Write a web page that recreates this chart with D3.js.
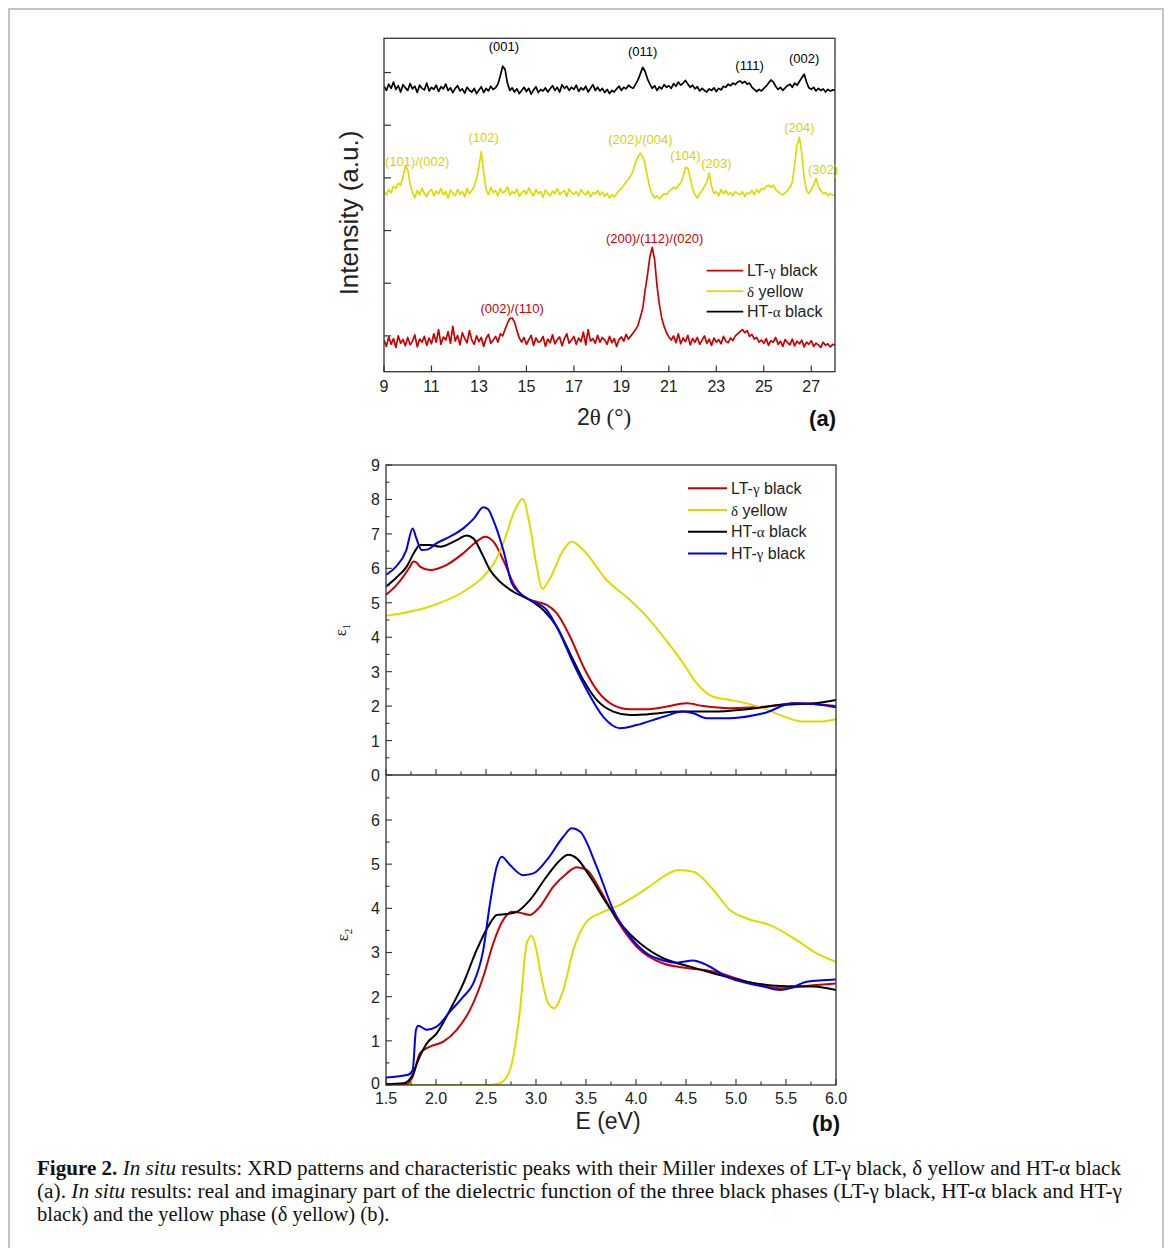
<!DOCTYPE html>
<html><head><meta charset="utf-8">
<script src="https://cdn.jsdelivr.net/npm/d3@7"></script>
<style>body{margin:0;background:#fff}svg{display:block}</style>
</head><body><svg id="c" width="1168" height="1248"></svg>
<script>
// ---------- DATA ----------
// XRD (panel a): intensity (a.u.) sampled every 0.1 deg from 9.0 to 28.0
const xrdStart = 9, xrdStep = 0.1;
const xrd_LTgamma = [
92,80,98,84,95,78,100,86,93,81, 97,83,90,102,79,94,88,99,82,96,
85,104,88,112,84,98,92,108,86,118, 90,101,83,106,95,87,110,92,84,100,
89,97,80,95,103,86,92,99,88,104, 100,112,124,133,134,126,110,96,88,97,
84,93,101,82,96,88,90,99,80,94, 87,102,85,93,98,81,95,104,86,92,
99,84,96,89,107,83,112,90,95,86, 101,88,97,92,84,99,87,95,80,93,
98,90,103,94,100,106,112,120,136,152, 186,216,250,268,245,196,160,134,118,106,
98,92,100,87,104,85,96,89,101,83, 95,88,97,84,92,100,86,94,82,96,
88,93,85,99,90,87,96,91,100,104, 108,112,106,110,99,103,94,97,88,92,
86,95,82,91,88,97,84,90,80,93, 87,83,94,81,90,85,92,79,88,84,
91,80,86,83,78,88,82,85,79,84, 82];
const xrd_delta = [
374,368,378,372,384,380,390,386,402,423, 415,388,372,362,376,368,380,370,365,374,
378,366,375,370,380,368,374,362,377,371, 366,378,369,374,364,380,370,376,384,398,
422,450,410,378,368,382,372,376,366,380, 371,375,383,367,374,370,379,365,372,376,
369,381,372,366,378,370,374,363,377,371, 366,375,370,380,368,373,376,365,379,372,
369,374,366,378,371,368,375,364,372,370, 376,367,373,365,371,362,368,364,370,376,
380,386,392,398,405,414,430,440,447,440, 426,402,380,368,362,366,360,365,370,368,
374,378,382,380,386,390,402,420,418,400, 380,368,362,370,376,384,392,409,384,370,
374,366,378,370,376,368,372,366,374,370, 368,374,365,372,370,376,368,378,372,380,
378,384,386,382,386,378,374,370,368,372, 376,382,392,425,462,477,448,400,376,370,
378,386,399,384,376,370,372,366,370,368, 366];
const xrd_HTalpha = [
574,566,578,570,582,568,575,563,577,571, 566,579,569,574,562,576,570,567,580,565,
572,568,576,564,573,569,578,566,571,562, 570,575,565,569,561,572,566,563,570,560,
567,573,562,570,565,574,568,571,578,594, 612,606,580,566,571,563,569,560,566,572,
564,570,559,567,573,562,568,565,571,563, 569,575,566,572,563,577,570,574,566,572,
568,576,564,571,567,574,563,570,577,566, 572,565,570,562,568,560,566,563,569,574,
566,572,569,576,572,570,578,586,598,610, 602,588,578,570,575,566,573,569,577,572,
575,570,579,574,582,576,580,585,578,572, 576,569,573,565,570,566,563,569,566,571,
564,570,567,574,572,578,575,580,577,582, 584,580,583,578,580,572,568,564,568,565,
570,574,580,586,582,574,568,572,566,571, 575,578,572,580,576,583,590,597,582,571,
568,572,565,570,566,569,563,568,565,567, 566];
const xrdXTicks = [9,11,13,15,17,19,21,23,25,27];
const xrdYTicks = [100,200,300,400,500,600];
// Miller index labels: [2theta, intensity position, text, series]
const xrdLabels = [
  [14.05, 640, "(001)", "HTa"], [19.9, 631, "(011)", "HTa"], [24.4, 605, "(111)", "HTa"], [26.7, 618, "(002)", "HTa"],
  [10.4, 423, "(101)/(002)", "d"], [13.2, 468, "(102)", "d"], [19.8, 464, "(202)/(004)", "d"], [21.7, 433, "(104)", "d"],
  [23.0, 418, "(203)", "d"], [26.5, 488, "(204)", "d"], [27.5, 407, "(302)", "d"],
  [20.4, 276, "(200)/(112)/(020)", "LTg"], [14.4, 143, "(002)/(110)", "LTg"]
];
// Dielectric function (panel b): [E (eV), value]
const eps1_LTgamma = [[1.5,5.23],[1.6,5.5],[1.673,5.76],[1.74,6.05],[1.773,6.2],[1.8,6.18],[1.84,6.05],[1.94,5.95],[2.107,6.1],[2.273,6.44],[2.407,6.78],[2.49,6.92],[2.573,6.78],[2.673,6.24],[2.773,5.57],[2.873,5.18],[3.007,5.03],[3.107,4.94],[3.207,4.7],[3.34,4.02],[3.473,3.15],[3.607,2.47],[3.773,2.03],[3.94,1.91],[4.107,1.91],[4.273,1.97],[4.507,2.08],[4.673,2.0],[4.94,1.94],[5.273,1.98],[5.607,2.08],[6.0,2.0]];
const eps1_delta = [[1.5,4.62],[1.94,4.89],[2.273,5.32],[2.473,5.76],[2.6,6.25],[2.673,6.73],[2.79,7.7],[2.867,8.02],[2.94,7.21],[3.007,6.05],[3.063,5.4],[3.14,5.71],[3.273,6.53],[3.357,6.78],[3.473,6.53],[3.707,5.66],[3.94,5.08],[4.107,4.6],[4.273,4.02],[4.473,3.24],[4.607,2.66],[4.773,2.27],[4.94,2.18],[5.107,2.08],[5.273,1.94],[5.44,1.74],[5.673,1.55],[5.84,1.55],[6.0,1.62]];
const eps1_HTalpha = [[1.5,5.47],[1.6,5.72],[1.707,6.05],[1.78,6.45],[1.84,6.68],[1.94,6.68],[2.04,6.63],[2.207,6.82],[2.307,6.95],[2.373,6.87],[2.457,6.44],[2.54,5.95],[2.64,5.61],[2.773,5.32],[2.94,5.08],[3.073,4.79],[3.207,4.31],[3.34,3.53],[3.473,2.76],[3.607,2.18],[3.773,1.84],[3.94,1.74],[4.107,1.76],[4.44,1.84],[4.773,1.84],[5.107,1.91],[5.44,2.03],[5.773,2.08],[6.0,2.18]];
const eps1_HTgamma = [[1.5,5.81],[1.6,6.05],[1.7,6.5],[1.767,7.16],[1.8,6.9],[1.857,6.53],[1.92,6.55],[2.007,6.73],[2.14,6.92],[2.273,7.16],[2.38,7.45],[2.473,7.77],[2.52,7.72],[2.573,7.4],[2.673,6.53],[2.757,5.57],[2.84,5.28],[2.94,5.08],[3.107,4.79],[3.24,4.11],[3.373,3.24],[3.507,2.47],[3.673,1.69],[3.84,1.36],[4.007,1.45],[4.273,1.69],[4.473,1.84],[4.573,1.79],[4.707,1.65],[4.94,1.65],[5.273,1.79],[5.573,2.08],[5.773,2.06],[6.0,1.97]];
const eps2_LTgamma = [[1.5,0.0],[1.7,0.02],[1.767,0.19],[1.84,0.72],[1.94,0.87],[2.073,0.98],[2.207,1.25],[2.34,1.7],[2.473,2.45],[2.573,3.21],[2.673,3.74],[2.757,3.92],[2.84,3.9],[2.94,3.85],[3.04,4.04],[3.173,4.49],[3.307,4.79],[3.407,4.93],[3.507,4.87],[3.64,4.42],[3.807,3.74],[4.007,3.13],[4.273,2.75],[4.54,2.64],[4.773,2.57],[5.107,2.34],[5.44,2.19],[5.773,2.26],[6.0,2.3]];
const eps2_delta = [[1.5,0],[2.54,0],[2.64,0.04],[2.74,0.34],[2.84,1.7],[2.907,3.2],[2.957,3.38],[3.0,3.1],[3.04,2.6],[3.123,1.85],[3.18,1.74],[3.273,2.15],[3.373,3.06],[3.507,3.7],[3.673,3.92],[3.84,4.08],[4.107,4.45],[4.273,4.72],[4.423,4.87],[4.573,4.83],[4.773,4.42],[4.94,3.96],[5.107,3.77],[5.34,3.62],[5.607,3.28],[5.807,2.98],[6.0,2.79]];
const eps2_HTalpha = [[1.5,0.02],[1.673,0.04],[1.757,0.19],[1.823,0.57],[1.907,0.94],[2.007,1.17],[2.14,1.7],[2.273,2.3],[2.407,3.06],[2.54,3.66],[2.607,3.85],[2.707,3.87],[2.807,3.92],[2.94,4.19],[3.107,4.72],[3.24,5.09],[3.323,5.21],[3.407,5.13],[3.54,4.72],[3.707,4.11],[3.873,3.58],[4.04,3.21],[4.273,2.87],[4.54,2.68],[4.773,2.53],[5.107,2.34],[5.44,2.24],[5.773,2.23],[6.0,2.15]];
const eps2_HTgamma = [[1.5,0.17],[1.723,0.23],[1.767,0.34],[1.8,1.25],[1.823,1.34],[1.907,1.25],[2.007,1.32],[2.14,1.66],[2.273,2.0],[2.373,2.3],[2.473,3.06],[2.54,4.11],[2.607,4.94],[2.657,5.17],[2.74,4.98],[2.873,4.75],[2.973,4.79],[3.107,5.09],[3.273,5.62],[3.357,5.81],[3.44,5.74],[3.607,4.94],[3.773,3.96],[3.94,3.36],[4.107,2.98],[4.273,2.82],[4.407,2.77],[4.573,2.82],[4.673,2.75],[4.94,2.42],[5.273,2.23],[5.44,2.15],[5.54,2.19],[5.707,2.34],[6.0,2.39]];
const eTicks = [1.5,2.0,2.5,3.0,3.5,4.0,4.5,5.0,5.5,6.0];
const eps1Ticks = [0,1,2,3,4,5,6,7,8,9];
const eps2Ticks = [0,1,2,3,4,5,6];
const colors = {LTg:"#cc0000", d:"#dcdc00", HTa:"#000000", HTg:"#0000ee"};

// ---------- DRAW ----------
const svg = d3.select("#c");
const SANS = "'Liberation Sans', Arial, sans-serif";
const SERIF = "'Liberation Serif', 'Times New Roman', serif";
svg.append("rect").attr("x",0).attr("y",0).attr("width",1168).attr("height",1248).attr("fill","#fff");
svg.append("path").attr("d","M9,1260V9H1163V1260").attr("fill","none").attr("stroke","#c4c4c4").attr("stroke-width",2);

// ----- Panel (a)
const xA = d3.scaleLinear().domain([9,28]).range([384,835]);
const yA = d3.scaleLinear().domain([32,665]).range([371.7,38.3]);
const defs = svg.append("defs");
defs.append("clipPath").attr("id","clipA").append("rect").attr("x",384).attr("y",38.3).attr("width",451).attr("height",333.4);
const gA = svg.append("g");
const lineA = d3.line().x((d,i)=>xA(xrdStart + i*xrdStep)).y(d=>yA(d));
const gAc = gA.append("g").attr("clip-path","url(#clipA)");
[[xrd_HTalpha,"HTa"],[xrd_delta,"d"],[xrd_LTgamma,"LTg"]].forEach(([arr,k])=>{
  gAc.append("path").attr("d",lineA(arr)).attr("fill","none").attr("stroke",colors[k]).attr("stroke-width",1.7).attr("stroke-linejoin","round");
});
gA.append("rect").attr("x",384).attr("y",38.3).attr("width",451).attr("height",333.4).attr("fill","none").attr("stroke","#333").attr("stroke-width",1.3);
xrdXTicks.forEach(t=>{
  gA.append("line").attr("x1",xA(t)).attr("x2",xA(t)).attr("y1",371.7).attr("y2",365.5).attr("stroke","#333").attr("stroke-width",1.2);
  gA.append("text").attr("x",xA(t)).attr("y",392).attr("text-anchor","middle").attr("font-family",SANS).attr("font-size",16).attr("fill","#222").text(t);
});
xrdYTicks.forEach(t=>{
  gA.append("line").attr("x1",384).attr("x2",391).attr("y1",yA(t)).attr("y2",yA(t)).attr("stroke","#333").attr("stroke-width",1.2);
});
xrdLabels.forEach(([tt,iv,txt,k])=>{
  gA.append("text").attr("x",xA(tt)).attr("y",yA(iv)).attr("text-anchor","middle").attr("font-family",SANS).attr("font-size",13).attr("fill",k==="d"?"#d4d400":colors[k]).text(txt);
});
// legend a
const legA = [["LTg","LT-","γ"," black"],["d","","δ"," yellow"],["HTa","HT-","α"," black"]];
legA.forEach(([k,a,g,b],i)=>{
  const y = 270.7 + i*20.5;
  gA.append("line").attr("x1",706.7).attr("x2",743.3).attr("y1",y).attr("y2",y).attr("stroke",colors[k]).attr("stroke-width",1.8);
  const t = gA.append("text").attr("x",747).attr("y",y+5.5).attr("font-family",SANS).attr("font-size",16).attr("fill","#222");
  t.append("tspan").text(a); t.append("tspan").attr("font-family",SERIF).attr("font-size",15).text(g); t.append("tspan").text(b);
});
const xtA = gA.append("text").attr("x",604).attr("y",425).attr("text-anchor","middle").attr("font-family",SANS).attr("font-size",23).attr("fill","#222");
xtA.append("tspan").text("2"); xtA.append("tspan").attr("font-family",SERIF).text("θ ("); xtA.append("tspan").attr("font-family",SERIF).text("°)");
gA.append("text").attr("x",836).attr("y",426).attr("text-anchor","end").attr("font-family",SANS).attr("font-weight","bold").attr("font-size",22).attr("fill","#111").text("(a)");
gA.append("text").attr("transform","translate(358,213) rotate(-90)").attr("text-anchor","middle").attr("font-family",SANS).attr("font-size",26).attr("fill","#222").text("Intensity (a.u.)");

// ----- Panel (b)
const xB = d3.scaleLinear().domain([1.5,6]).range([386,836]);
const y1 = d3.scaleLinear().domain([0,9]).range([775,465]);
const y2 = d3.scaleLinear().domain([0,7]).range([1085,775.8]);
defs.append("clipPath").attr("id","clip1").append("rect").attr("x",386).attr("y",465).attr("width",450).attr("height",310);
defs.append("clipPath").attr("id","clip2").append("rect").attr("x",386).attr("y",775).attr("width",450).attr("height",310);
const gB = svg.append("g");
const l1 = d3.line().curve(d3.curveMonotoneX).x(d=>xB(d[0])).y(d=>y1(d[1]));
const l2 = d3.line().curve(d3.curveMonotoneX).x(d=>xB(d[0])).y(d=>y2(d[1]));
const g1 = gB.append("g").attr("clip-path","url(#clip1)");
const g2 = gB.append("g").attr("clip-path","url(#clip2)");
[[eps1_LTgamma,"LTg"],[eps1_delta,"d"],[eps1_HTalpha,"HTa"],[eps1_HTgamma,"HTg"]].forEach(([arr,k])=>{
  g1.append("path").attr("d",l1(arr)).attr("fill","none").attr("stroke",colors[k]).attr("stroke-width",2);
});
[[eps2_delta,"d"],[eps2_LTgamma,"LTg"],[eps2_HTalpha,"HTa"],[eps2_HTgamma,"HTg"]].forEach(([arr,k])=>{
  g2.append("path").attr("d",l2(arr)).attr("fill","none").attr("stroke",colors[k]).attr("stroke-width",2);
});
gB.append("rect").attr("x",386).attr("y",465).attr("width",450).attr("height",620).attr("fill","none").attr("stroke","#333").attr("stroke-width",1.3);
gB.append("line").attr("x1",386).attr("x2",836).attr("y1",775).attr("y2",775).attr("stroke","#333").attr("stroke-width",1.3);
// ticks
const tk = (x1,y1_,x2,y2_)=>gB.append("line").attr("x1",x1).attr("y1",y1_).attr("x2",x2).attr("y2",y2_).attr("stroke","#333").attr("stroke-width",1.1);
eTicks.forEach((t,i)=>{
  tk(xB(t),775,xB(t),769); tk(xB(t),1085,xB(t),1079);
  if(i<eTicks.length-1){ const m=t+0.25; tk(xB(m),775,xB(m),771.5); tk(xB(m),1085,xB(m),1081.5); }
  gB.append("text").attr("x",xB(t)).attr("y",1104).attr("text-anchor","middle").attr("font-family",SANS).attr("font-size",16).attr("fill","#222").text(t.toFixed(1));
});
eps1Ticks.forEach((t,i)=>{
  tk(386,y1(t),392,y1(t));
  if(i<eps1Ticks.length-1) tk(386,y1(t+0.5),389.5,y1(t+0.5));
  gB.append("text").attr("x",380).attr("y",y1(t)+6).attr("text-anchor","end").attr("font-family",SANS).attr("font-size",16).attr("fill","#222").text(t);
});
eps2Ticks.forEach((t)=>{
  tk(386,y2(t),392,y2(t)); tk(386,y2(t+0.5),389.5,y2(t+0.5));
  gB.append("text").attr("x",380).attr("y",y2(t)+(t===0?4:6)).attr("text-anchor","end").attr("font-family",SANS).attr("font-size",16).attr("fill","#222").text(t);
});
// axis labels
const e1 = gB.append("text").attr("transform","translate(346,630) rotate(-90)").attr("text-anchor","middle").attr("font-family",SERIF).attr("font-size",17).attr("fill","#222");
e1.append("tspan").text("ε"); e1.append("tspan").attr("font-size",11).attr("dy",4).text("1");
const e2 = gB.append("text").attr("transform","translate(348,935) rotate(-90)").attr("text-anchor","middle").attr("font-family",SERIF).attr("font-size",17).attr("fill","#222");
e2.append("tspan").text("ε"); e2.append("tspan").attr("font-size",11).attr("dy",4).text("2");
gB.append("text").attr("x",608).attr("y",1129).attr("text-anchor","middle").attr("font-family",SANS).attr("font-size",23).attr("fill","#222").text("E (eV)");
gB.append("text").attr("x",840).attr("y",1131).attr("text-anchor","end").attr("font-family",SANS).attr("font-weight","bold").attr("font-size",22).attr("fill","#111").text("(b)");
// legend b
const legB = [["LTg","LT-","γ"," black"],["d","","δ"," yellow"],["HTa","HT-","α"," black"],["HTg","HT-","γ"," black"]];
legB.forEach(([k,a,g,b],i)=>{
  const y = 488.3 + i*21.7;
  gB.append("line").attr("x1",688).attr("x2",727).attr("y1",y).attr("y2",y).attr("stroke",colors[k]).attr("stroke-width",2);
  const t = gB.append("text").attr("x",731).attr("y",y+5.5).attr("font-family",SANS).attr("font-size",16).attr("fill","#222");
  t.append("tspan").text(a); t.append("tspan").attr("font-family",SERIF).attr("font-size",15).text(g); t.append("tspan").text(b);
});

// ----- Caption
const cap = svg.append("g").attr("font-family",SERIF).attr("font-size",20.5).attr("fill","#111");
const c1 = cap.append("text").attr("x",37).attr("y",1175).attr("textLength",1084).attr("lengthAdjust","spacingAndGlyphs");
c1.append("tspan").attr("font-weight","bold").text("Figure 2. ");
c1.append("tspan").attr("font-style","italic").text("In situ");
c1.append("tspan").text(" results: XRD patterns and characteristic peaks with their Miller indexes of LT-γ black, δ yellow and HT-α black");
const c2 = cap.append("text").attr("x",37).attr("y",1198).attr("textLength",1085).attr("lengthAdjust","spacingAndGlyphs");
c2.append("tspan").text("(a). ");
c2.append("tspan").attr("font-style","italic").text("In situ");
c2.append("tspan").text(" results: real and imaginary part of the dielectric function of the three black phases (LT-γ black, HT-α black and HT-γ");
cap.append("text").attr("x",37).attr("y",1221).text("black) and the yellow phase (δ yellow) (b).");
</script></body></html>
